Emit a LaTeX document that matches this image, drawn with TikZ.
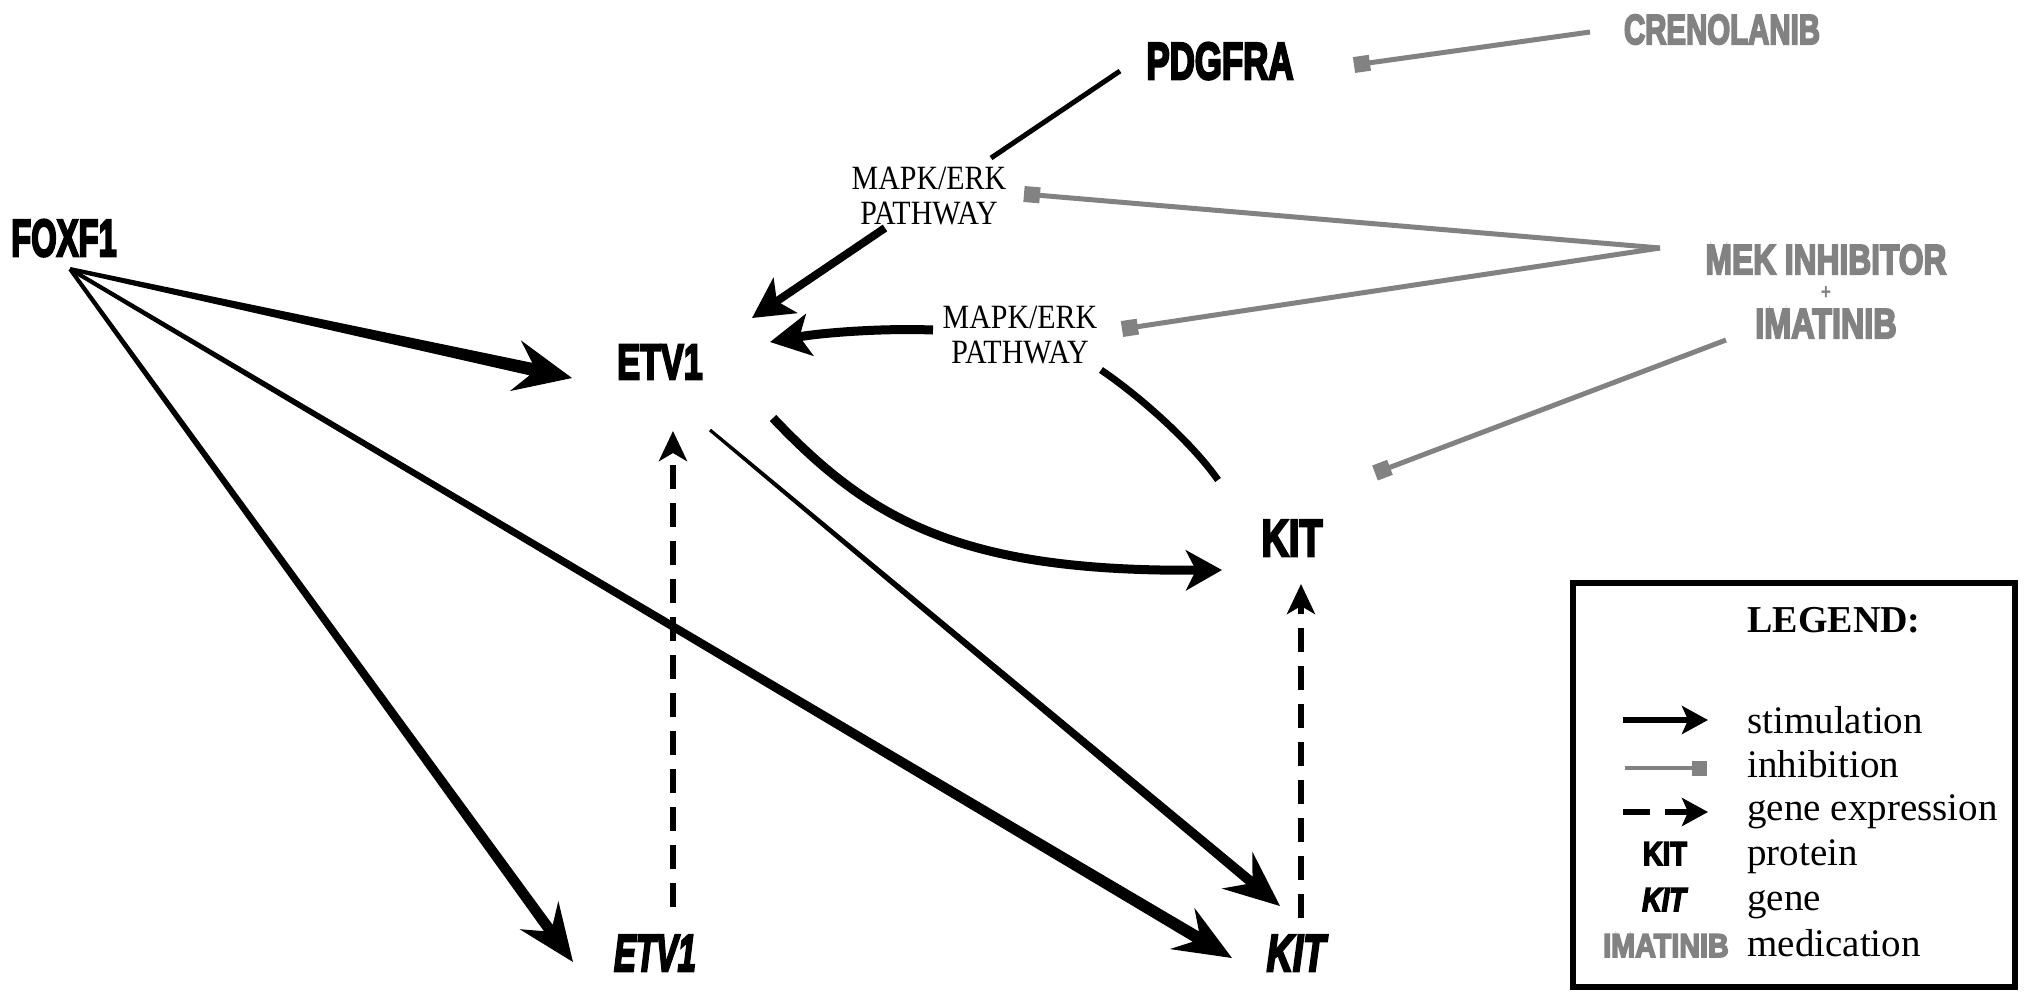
\documentclass[tikz,border=0pt]{standalone}
\usepackage{fontspec}
\setmainfont{Liberation Serif}
\newfontfamily\impB{Liberation Sans}[UprightFont={* Bold}, ItalicFont={* Bold Italic}, FakeBold=5]
\newfontfamily\plainB{Liberation Sans}[UprightFont={* Bold}]
\usetikzlibrary{arrows.meta,calc}
\definecolor{medgray}{RGB}{130,130,130}
% tapered arrow: from, to, start half-width, neck half-width, head length, notch depth, head half-width
\newcommand\tarr[7]{%
  \path (#1) coordinate (tA) (#2) coordinate (tB);
  \path ($(tB)!#5!(tA)$) coordinate (tP) ($(tB)!#6!(tA)$) coordinate (tN);
  \fill ($(tA)!#3!90:(tB)$) -- ($(tN)!#4!-90:(tA)$) -- ($(tP)!#7!-90:(tA)$) -- (tB)
     -- ($(tP)!#7!90:(tA)$) -- ($(tN)!#4!90:(tA)$) -- ($(tA)!#3!-90:(tB)$) -- cycle;}
\newcommand\tklab[3]{\scalebox{#1}[1]{\impB\fontsize{#2}{#2}\selectfont #3}}
\newcommand\tkgen[3]{\scalebox{#1}[1]{\impB\itshape\fontsize{#2}{#2}\selectfont #3}}
\tikzset{
  lab/.style={inner sep=0pt, anchor=base},
  medlab/.style={lab, text=medgray},
  pathlab/.style={inner sep=0pt, align=center, font=\fontsize{17}{17.5}\selectfont},
  inh/.style={draw=medgray, line width=2.5pt, -{Square[length=8pt,width=8pt]}},
  stim/.style={line width=4pt, -{Stealth[length=20pt,width=21pt,inset=5pt]}},
  gexp/.style={line width=3pt, dash pattern=on 12pt off 7pt, -{Stealth[length=15pt,width=14pt,inset=4pt]}},
  legtxt/.style={inner sep=0pt, anchor=base west, font=\fontsize{19.5}{19.5}\selectfont}
}
\begin{document}
\begin{tikzpicture}[x=0.5pt,y=-0.5pt]
\fill[white] (0,0) rectangle (2031,1003);
\useasboundingbox (0,0) rectangle (2031,1003);

% ---- nodes
\node[lab] (foxf1) at (64,256) {\tklab{0.63}{26}{FOXF1}};
\node[lab] (pdgfra) at (1220,79) {\tklab{0.67}{26}{PDGFRA}};
\node[lab] (etv1p) at (660,379) {\tklab{0.69}{24.8}{ETV1}};
\node[lab] (kitp) at (1292,556) {\tklab{0.73}{26}{KIT}};
\node[lab] (etv1g) at (655,971) {\tkgen{0.63}{26}{ETV1}};
\node[lab] (kitg) at (1296,971) {\tkgen{0.70}{26}{KIT}};
\node[medlab] (creno) at (1722,44) {\tklab{0.70}{21}{CRENOLANIB}};
\node[medlab] (mek) at (1826,274) {\tklab{0.755}{21}{MEK INHIBITOR}};
\node[inner sep=0pt, text=medgray] (plus) at (1826,293) {\scalebox{0.8}[1]{\plainB\fontsize{11}{11}\selectfont +}};
\node[medlab] (imat) at (1826,338) {\tklab{0.77}{21}{IMATINIB}};
\node[pathlab] (mapk1) at (929,196) {\scalebox{0.88}[1]{MAPK/ERK}\\\scalebox{0.88}[1]{PATHWAY}};
\node[pathlab] (mapk2) at (1020,335) {\scalebox{0.88}[1]{MAPK/ERK}\\\scalebox{0.88}[1]{PATHWAY}};

% ---- connector end points
\coordinate (foxout) at (70,269);
\coordinate (e1in) at (572,378);
\coordinate (egin) at (573,962);
\coordinate (kgin1) at (1232,958);
\coordinate (e1out) at (710,430);
\coordinate (kgin2) at (1280,906);
\coordinate (e1out2) at (773,418);
\coordinate (kpin) at (1222,570);
\coordinate (egout) at (673,907);
\coordinate (e1in2) at (673,431);
\coordinate (kgout) at (1301,918);
\coordinate (kpin2) at (1301,584);
\coordinate (m1out) at (885,228);
\coordinate (e1in3) at (752,318);
\coordinate (m2out) at (933,330);
\coordinate (e1in4) at (770,342);
\coordinate (pdout) at (1120,71);
\coordinate (m1in) at (991,158);
\coordinate (kpout) at (1218,480);
\coordinate (m2in) at (1101,370);
\coordinate (crout) at (1590,32);
\coordinate (crin) at (1354,65);
\coordinate (mekj) at (1660,248);
\coordinate (m1inh) at (1024,194);
\coordinate (m2inh) at (1122,329);
\coordinate (imout) at (1726,340);
\coordinate (kinh) at (1375,473);

% ---- stimulation (tapered)
\tarr{foxout}{e1in}{1pt}{3.2pt}{29pt}{21pt}{13pt}
\tarr{foxout}{egin}{1pt}{2.7pt}{29pt}{21pt}{12pt}
\tarr{foxout}{kgin1}{1pt}{3pt}{29pt}{21pt}{12pt}
\tarr{e1out}{kgin2}{0.8pt}{2.5pt}{28pt}{20pt}{12pt}

\draw[line width=4.5pt, -{Stealth[length=18pt,width=20pt,inset=5pt]}]
  (e1out2) .. controls (870,520) and (960,572) .. (kpin);
\draw[stim] (m1out) -- (e1in3);
\draw[stim, line width=4.5pt] (m2out) .. controls (880,328) and (820,333) .. (e1in4);
\draw[line width=2.5pt] (pdout) -- (m1in);
\draw[line width=3.5pt] (kpout) .. controls (1193,444) and (1141,397) .. (m2in);

% ---- gene expression
\draw[gexp] (egout) -- (e1in2);
\draw[gexp] (kgout) -- (kpin2);

% ---- inhibition
\draw[inh] (crout) -- (crin);
\draw[inh] (mekj) -- (m1inh);
\draw[inh] (mekj) -- (m2inh);
\draw[inh] (imout) -- (kinh);

% ---- legend
\node[draw, line width=3pt, minimum width=221pt, minimum height=202pt, inner sep=0pt] (legend) at (1794,785) {};
\node[inner sep=0pt, anchor=base west, font=\bfseries\fontsize{19}{19}\selectfont] (legtitle) at (1747,632) {LEGEND:};
\coordinate (ls1) at (1623,720); \coordinate (le1) at (1708,720);
\coordinate (ls2) at (1625,768); \coordinate (le2) at (1707,768);
\coordinate (ls3) at (1623,812); \coordinate (le3) at (1708,812);
\draw[line width=3pt, -{Stealth[length=13pt,width=14pt,inset=3pt]}] (ls1) -- (le1);
\draw[draw=medgray, line width=2pt, -{Square[length=7.5pt,width=7.5pt]}] (ls2) -- (le2);
\draw[line width=3pt, dash pattern=on 13.5pt off 7.5pt, -{Stealth[length=13pt,width=14pt,inset=3pt]}] (ls3) -- (le3);
\node[lab] (legkit) at (1665,865) {\tklab{0.83}{16.5}{KIT}};
\node[lab] (legkitg) at (1664,911) {\tkgen{0.82}{16.5}{KIT}};
\node[medlab] (legimat) at (1666,957) {\tklab{0.87}{16.5}{IMATINIB}};
\node[legtxt] (t1) at (1747,733) {stimulation};
\node[legtxt] (t2) at (1747,777) {inhibition};
\node[legtxt] (t3) at (1747,820) {gene expression};
\node[legtxt] (t4) at (1747,865) {protein};
\node[legtxt] (t5) at (1747,910) {gene};
\node[legtxt] (t6) at (1747,956) {medication};
\end{tikzpicture}
\end{document}
